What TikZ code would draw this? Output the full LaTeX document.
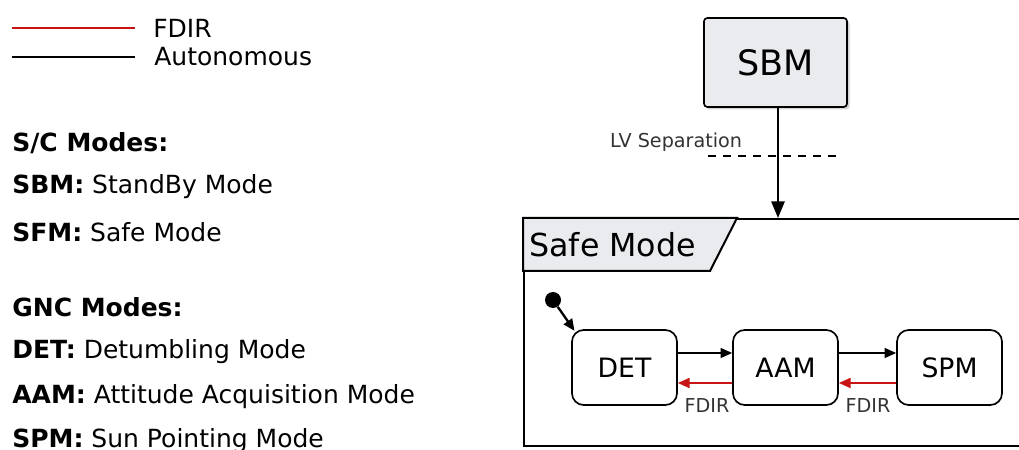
\documentclass[tikz,border=0pt]{standalone}
\usepackage{fontspec}
\setmainfont{DejaVu Sans}
\usetikzlibrary{arrows.meta,shadows}

\definecolor{fdirred}{RGB}{200,20,20}
\definecolor{modegray}{RGB}{233,235,238}

\tikzset{
  modebox/.style={draw, line width=1pt, rounded corners=7pt, minimum width=63pt,
    minimum height=45pt, font=\fontsize{16}{18}\selectfont},
  auto arrow/.style={line width=0.9pt, -{Triangle[length=7pt,width=6pt]}},
  fdir arrow/.style={line width=0.9pt, draw=fdirred, -{Triangle[length=7pt,width=6pt]}},
  legend line/.style={line width=1.5pt},
  keytext/.style={anchor=west, inner sep=0pt, font=\fontsize{15}{17}\selectfont},
  smalltext/.style={inner sep=1pt, font=\fontsize{11.5}{13}\selectfont, text=black!80}
}

\begin{document}
\begin{tikzpicture}[x=0.6pt, y=-0.6pt]
  \useasboundingbox (0,0) rectangle (1019,450);

  % legend
  \coordinate (redstart) at (12,28);
  \coordinate (redend) at (135,28);
  \coordinate (blackstart) at (12,57);
  \coordinate (blackend) at (135,57);
  \draw[legend line, fdirred] (redstart) -- (redend);
  \draw[legend line] (blackstart) -- (blackend);
  \node[keytext] (fdirkey) at (153,28) {FDIR};
  \node[keytext] (autokey) at (154,57) {Autonomous};

  % mode list
  \node[keytext] (scmodes) at (12,143) {\textbf{S/C Modes:}};
  \node[keytext] (sbmkey) at (12,187) {\textbf{SBM:} StandBy Mode};
  \node[keytext] (sfmkey) at (12,232) {\textbf{SFM:} Safe Mode};
  \node[keytext] (gncmodes) at (12,307) {\textbf{GNC Modes:}};
  \node[keytext] (detkey) at (12,352) {\textbf{DET:} Detumbling Mode};
  \node[keytext] (aamkey) at (12,397) {\textbf{AAM:} Attitude Acquisition Mode};
  \node[keytext] (spmkey) at (12,441) {\textbf{SPM:} Sun Pointing Mode};

  % standby mode
  \node[draw, line width=1pt, fill=modegray, rounded corners=2pt, drop shadow={opacity=0.35, shadow xshift=1.5pt, shadow yshift=-1.5pt},
    minimum width=85.8pt, minimum height=53.4pt, font=\fontsize{21}{23}\selectfont] (sbm) at (775.5,62.5) {SBM};

  % safe mode frame
  \node[draw, line width=1.4pt, minimum width=304pt, minimum height=136.2pt, anchor=north west, inner sep=0pt] (safemode) at (523,218) {};
  \draw[line width=1.2pt, fill=modegray] (safemode.north west) -- (737,218) -- (710,271) -- (523,271) -- cycle;
  \node[anchor=west, inner sep=0pt, font=\fontsize{19}{21}\selectfont] (safelabel) at (529,245) {Safe Mode};

  \coordinate (lvleft) at (708,156);
  \coordinate (lvright) at (840,156);
  \draw[line width=0.9pt, dash pattern=on 5pt off 4pt] (lvleft) -- (lvright);
  \node[smalltext, anchor=east] (lvsep) at (744,142) {LV Separation};
  \draw[line width=1.1pt, -{Triangle[length=10pt,width=8pt]}] ([xshift=1.5pt]sbm.south) -- ([xshift=1.5pt]sbm.south |- safemode.north);

  % gnc modes
  \node[modebox] (det) at (624.5,367.5) {DET};
  \node[modebox] (aam) at (785.5,367.5) {AAM};
  \node[modebox] (spm) at (949.5,367.5) {SPM};

  \node[circle, fill=black, inner sep=0pt, minimum size=9.6pt] (init) at (553,300) {};
  \draw[line width=1.4pt, -{Triangle[length=7pt,width=6pt]}] (init) -- ([shift={(2pt,-1pt)}]det.north west);

  \draw[auto arrow] ([yshift=8.7pt]det.east) -- ([yshift=8.7pt]aam.west);
  \draw[auto arrow] ([yshift=8.7pt]aam.east) -- ([yshift=8.7pt]spm.west);
  \draw[fdir arrow] ([yshift=-9.3pt]aam.west) -- ([yshift=-9.3pt]det.east);
  \draw[fdir arrow] ([yshift=-9.3pt]spm.west) -- ([yshift=-9.3pt]aam.east);
  \node[smalltext] (fdirone) at (707,406) {FDIR};
  \node[smalltext] (fdirtwo) at (868,406) {FDIR};
\end{tikzpicture}
\end{document}
